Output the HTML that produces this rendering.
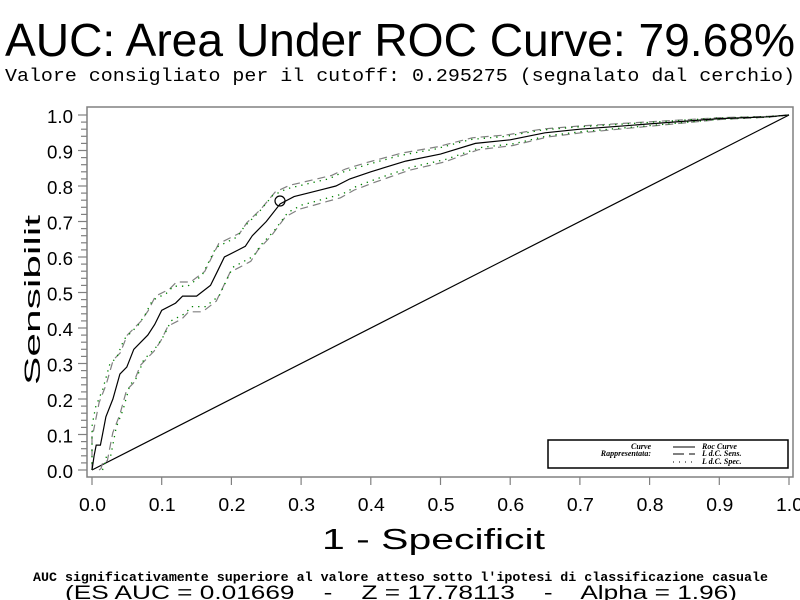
<!DOCTYPE html>
<html><head><meta charset="utf-8"><style>html,body{margin:0;padding:0;background:#fff}svg{display:block}text{white-space:pre}</style></head>
<body>
<svg id="s" width="800" height="600" xmlns="http://www.w3.org/2000/svg" font-family="Liberation Sans, sans-serif">
<rect width="800" height="600" fill="#fff"/>
<text x="5" y="56" font-size="46" textLength="790" lengthAdjust="spacingAndGlyphs">AUC: Area Under ROC Curve: 79.68%</text>
<text transform="translate(5,81) scale(1,1.3)" font-size="14" font-family="Liberation Mono, monospace" textLength="790" lengthAdjust="spacingAndGlyphs">Valore consigliato per il cutoff: 0.295275 (segnalato dal cerchio)</text>
<rect x="87" y="107" width="706" height="370" fill="none" stroke="#808080" stroke-width="1.5"/>
<g id="ticks" stroke="#808080" stroke-width="1.2"></g>
<g id="labels" font-size="14"></g>
<line x1="92" y1="470" x2="789" y2="115" stroke="#000" stroke-width="1.2"/>
<g id="curves" fill="none"></g>
<circle cx="280" cy="201" r="5" fill="none" stroke="#000" stroke-width="1.2"/>
<rect x="548" y="440" width="240" height="28" fill="#fff" stroke="#000" stroke-width="1.5"/>
<g font-family="Liberation Serif, serif" font-style="italic" font-weight="bold" font-size="8">
<text x="651" y="449" text-anchor="end">Curve</text>
<text x="651" y="456" text-anchor="end">Rappresentata:</text>
<text x="702" y="449">Roc Curve</text>
<text x="702" y="456">L d.C. Sens.</text>
<text x="702" y="464">L d.C. Spec.</text>
</g>
<line x1="673" y1="447" x2="695" y2="447" stroke="#000"/>
<line x1="673" y1="454" x2="695" y2="454" stroke="#000" stroke-dasharray="11 5"/>
<line x1="673" y1="462" x2="695" y2="462" stroke="#000" stroke-dasharray="1 5"/>
<text transform="translate(40,300) rotate(-90) scale(1,0.75)" text-anchor="middle" font-size="30" textLength="170" lengthAdjust="spacingAndGlyphs">Sensibilit</text>
<text transform="translate(322,549) scale(1,1.3)" font-size="22" textLength="223" lengthAdjust="spacingAndGlyphs">1 - Specificit</text>
<text x="33" y="581" font-size="13" font-weight="bold" font-family="Liberation Mono, monospace" textLength="735" lengthAdjust="spacingAndGlyphs">AUC significativamente superiore al valore atteso sotto l'ipotesi di classificazione casuale</text>
<text transform="translate(65,599) scale(1,1.3)" font-size="15" textLength="672" lengthAdjust="spacingAndGlyphs">(ES AUC = 0.01669    -    Z = 17.78113    -    Alpha = 1.96)</text>
</svg>
<script>
const NS="http://www.w3.org/2000/svg";
const X=v=>92+v*697, Y=v=>470-v*355;
function el(p,t,a,txt){const e=document.createElementNS(NS,t);for(const k in a)e.setAttribute(k,a[k]);if(txt!==undefined)e.textContent=txt;p.appendChild(e);return e;}
const tk=document.getElementById('ticks'),lb=document.getElementById('labels');
for(let i=0;i<=50;i++){const y=Y(i/50);const maj=i%5==0;el(tk,'line',{x1:maj?78:81,y1:y,x2:87,y2:y});}
for(let i=0;i<=10;i++){const v=(i/10).toFixed(1);
 el(lb,'text',{transform:`translate(47,${Y(i/10)+8}) scale(1,1.35)`,textLength:26,lengthAdjust:'spacingAndGlyphs'},v);
 el(tk,'line',{x1:X(i/10),y1:477,x2:X(i/10),y2:485});
 el(lb,'text',{transform:`translate(${X(i/10)-13},511) scale(1,1.35)`,textLength:27,lengthAdjust:'spacingAndGlyphs'},v);}
const P=[[0,0],[0.003,0.04],[0.006,0.07],[0.012,0.07],[0.015,0.1],[0.02,0.15],[0.03,0.2],[0.04,0.27],[0.05,0.29],[0.06,0.34],[0.07,0.36],[0.08,0.38],[0.09,0.41],[0.1,0.45],[0.12,0.47],[0.13,0.49],[0.15,0.49],[0.17,0.52],[0.18,0.56],[0.19,0.6],[0.21,0.62],[0.22,0.63],[0.23,0.66],[0.25,0.7],[0.27,0.75],[0.29,0.77],[0.31,0.78],[0.33,0.79],[0.35,0.8],[0.37,0.82],[0.4,0.84],[0.45,0.87],[0.5,0.89],[0.55,0.92],[0.6,0.93],[0.65,0.95],[0.7,0.96],[0.8,0.975],[0.9,0.99],[0.97,0.995],[1,1]];
function band(off,dx){return P.map(([x,y])=>{let yy=y+off*(y<0.05?y*20:1)*(1-Math.pow(y,6));let xx=x+dx*(1-x);return [X(Math.max(0,Math.min(1,xx))),Y(Math.max(0,Math.min(1,yy)))];});}
function path(pts){return 'M'+pts.map(p=>p[0].toFixed(1)+','+p[1].toFixed(1)).join('L');}
const cv=document.getElementById('curves');
el(cv,'path',{d:path(band(0.04,-0.01)),stroke:'#808080','stroke-width':1.2,'stroke-dasharray':'8 5'});
el(cv,'path',{d:path(band(-0.045,0.01)),stroke:'#808080','stroke-width':1.2,'stroke-dasharray':'8 5'});
el(cv,'path',{d:path(band(0.028,-0.015)),stroke:'#008000','stroke-width':1.3,'stroke-dasharray':'1.3 5'});
el(cv,'path',{d:path(band(-0.03,0.015)),stroke:'#008000','stroke-width':1.3,'stroke-dasharray':'1.3 5'});
el(cv,'path',{d:path(P.map(([x,y])=>[X(x),Y(y)])),stroke:'#000','stroke-width':1.2});
</script>
</body></html>
